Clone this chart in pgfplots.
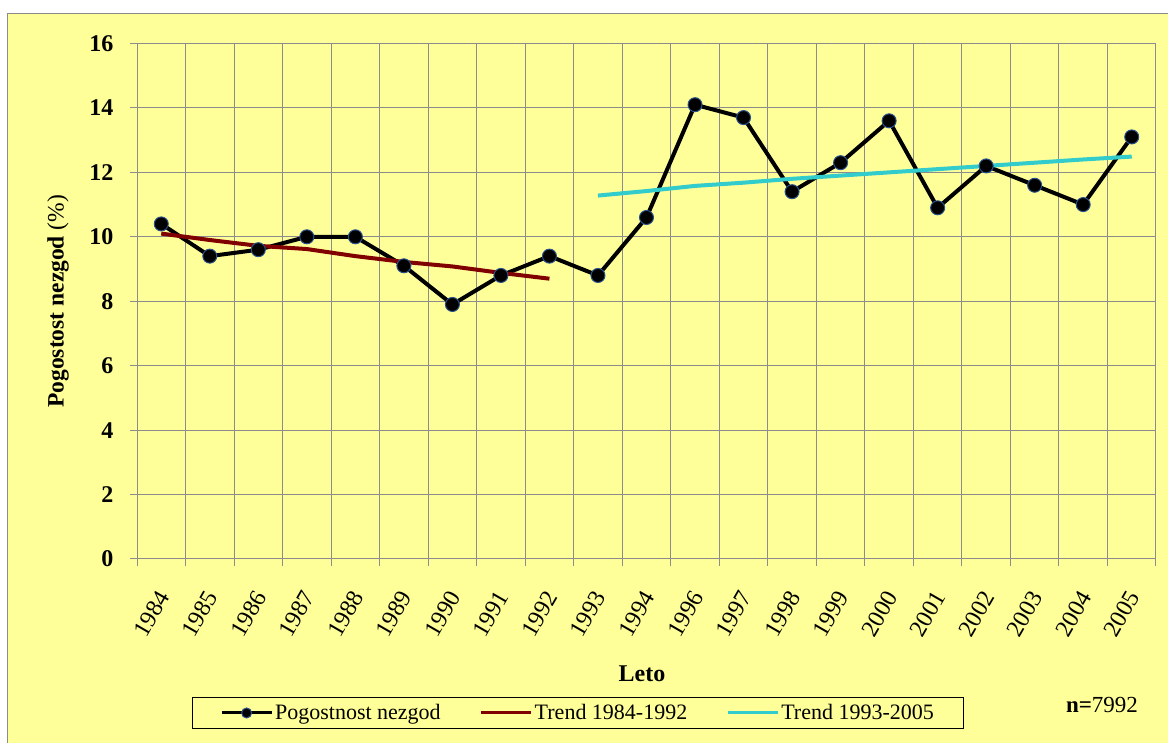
\documentclass[border=0pt]{standalone}
\usepackage{fontspec}
\setmainfont{Liberation Serif}
\usepackage{pgfplots}
\pgfplotsset{compat=1.18}
\definecolor{bgyellow}{RGB}{255,255,153}
\definecolor{gridgray}{RGB}{140,140,140}
\definecolor{trendred}{RGB}{128,0,0}
\definecolor{trendcyan}{RGB}{51,204,204}
\definecolor{markedge}{RGB}{40,80,140}
\begin{document}
\begin{tikzpicture}[x=1pt,y=1pt]
\fill[white] (0,0) rectangle (1168,743);
\fill[bgyellow] (7.5,0) rectangle (1168,729.5);
\draw[gridgray,line width=1.5pt] (7.5,0) -- (7.5,729.5) -- (1168,729.5);
\begin{axis}[
  scale only axis,
  width=1019pt, height=515.5pt,
  anchor=south west, at={(137pt,184pt)},
  xmin=-0.5, xmax=20.5, ymin=0, ymax=16,
  axis background/.style={fill=bgyellow},
  axis line style={gridgray, line width=1pt},
  xtick={0,...,20},
  xticklabels={1984,1985,1986,1987,1988,1989,1990,1991,1992,1993,1994,1996,1997,1998,1999,2000,2001,2002,2003,2004,2005},
  minor xtick={-0.5,0.5,...,20.5},
  ytick={0,2,...,16},
  xminorgrids=true, ymajorgrids=true, xmajorgrids=false,
  grid style={gridgray, line width=1pt},
  minor grid style={gridgray, line width=1pt},
  major x tick style={draw=none},
  minor x tick style={gridgray, line width=1pt},
  y tick style={gridgray, line width=1pt},
  major tick length=7pt, minor tick length=7pt,
  tick align=outside, tick pos=left,
  /pgf/number format/assume math mode=true,
  yticklabel style={font=\fontsize{24}{26}\selectfont\bfseries, xshift=-13pt},
  xticklabel style={font=\fontsize{24}{26}\selectfont, xshift=4pt, yshift=-24pt, rotate=60, anchor=east},
  xlabel={\textbf{Leto}},
  xlabel style={font=\fontsize{24}{26}\selectfont, at={(axis description cs:0.4956,-0.223)}, anchor=center},
  ylabel={\textbf{Pogostost nezgod} (\%)},
  ylabel style={font=\fontsize{23.5}{25}\selectfont, at={(axis description cs:-0.0775,0.5)}, anchor=center, rotate=0},
  legend columns=3,
  legend style={at={(axis description cs:0.4328,-0.2987)}, anchor=center,
    fill=bgyellow, draw=black, line width=1pt,
    font=\fontsize{22}{24}\selectfont,
    inner xsep=28pt, inner ysep=5pt,
    /tikz/every even column/.append style={column sep=37pt}},
  legend cell align=left,
  legend image code/.code={\draw[mark repeat=2,mark phase=2,#1,line width=3pt,mark size=5pt] plot coordinates {(0pt,0pt) (25pt,0pt) (50pt,0pt)};},
]
\addplot[black, line width=4pt, mark=*, mark size=7pt,
  mark options={fill=black, draw=markedge, line width=1pt}]
  coordinates {
  (0,10.4) (1,9.4) (2,9.6) (3,10.0) (4,10.0) (5,9.1) (6,7.9) (7,8.8) (8,9.4)
  (9,8.8) (10,10.6) (11,14.1) (12,13.7) (13,11.4) (14,12.3) (15,13.6)
  (16,10.9) (17,12.2) (18,11.6) (19,11.0) (20,13.1)};
\addlegendentry{Pogostnost nezgod}
\addplot[trendred, line width=4pt, no marks] coordinates {
  (0,10.1) (1,9.9) (2,9.72) (3,9.62) (4,9.4) (5,9.22) (6,9.08) (7,8.88) (8,8.7)};
\addlegendentry{Trend 1984-1992}
\addplot[trendcyan, line width=4pt, no marks] coordinates {
  (9,11.28) (10,11.42) (11,11.58) (12,11.68) (13,11.8) (14,11.9) (15,12.0)
  (16,12.1) (17,12.2) (18,12.3) (19,12.4) (20,12.49)};
\addlegendentry{Trend 1993-2005}
\end{axis}
\node[font=\fontsize{23}{25}\selectfont] at (1102,38) {\textbf{n=}7992};
\pgfresetboundingbox
\path (0,0) rectangle (1168,743);
\end{tikzpicture}
\end{document}
